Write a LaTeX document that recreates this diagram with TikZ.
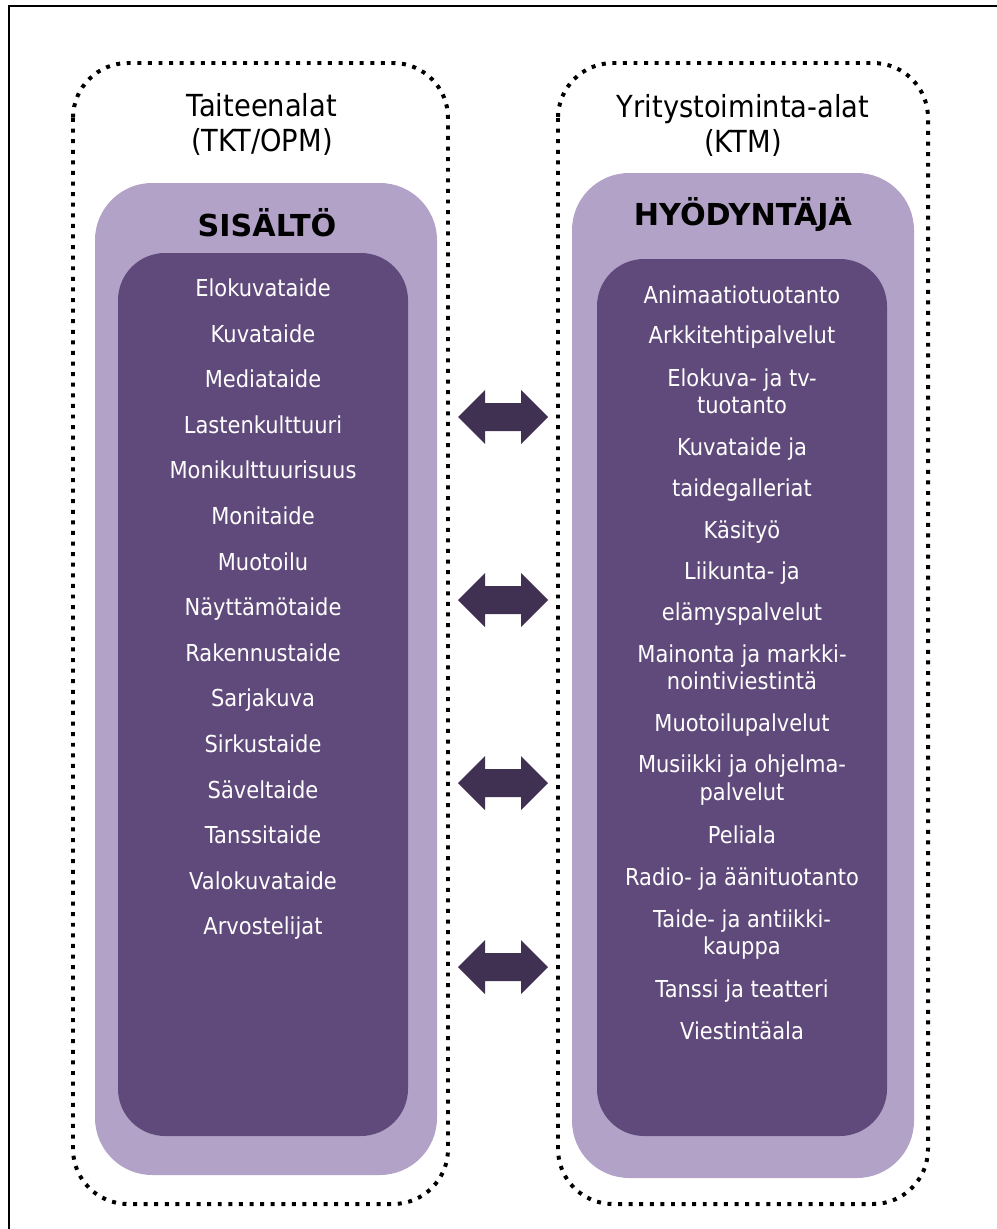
\documentclass[tikz,border=0pt]{standalone}
\usepackage{fontspec}
\setmainfont[FakeStretch=0.9]{DejaVu Sans}
\newfontfamily\paksufont{DejaVu Sans}
\definecolor{lilaVaalea}{HTML}{B3A2C7}
\definecolor{lilaTumma}{HTML}{604A7B}
\definecolor{lilaNuoli}{HTML}{403152}

\begin{document}
\begin{tikzpicture}[x=0.025cm,y=-0.025cm,
	pistelaatikko/.style={line width=2.83pt,dash pattern=on 2.83pt off 4.7pt,rounded corners=1.375cm},
	vaalealaatikko/.style={fill=lilaVaalea,rounded corners=1.43cm},
	tummalaatikko/.style={fill=lilaTumma,rounded corners=1.18cm},
	otsikko/.style={font=\fontsize{21.6}{24.9}\selectfont,align=center,inner sep=0pt},
	paaotsikko/.style={font=\paksufont\bfseries\fontsize{21.5}{25}\selectfont,inner sep=0pt},
	ala/.style={text=white,font=\fontsize{16.6}{19.4}\selectfont,align=center,inner sep=0pt},
	nuoli/.style={fill=lilaNuoli}]

	\useasboundingbox (0,0) rectangle (997,1229);
	\draw[line width=1.4pt] (9,1229) -- (9,6) -- (997,6);

	\draw[pistelaatikko] (73,63) rectangle (448,1204);
	\fill[vaalealaatikko] (95,183) rectangle (437,1175);
	\fill[tummalaatikko] (118,253) rectangle (408,1136);

	\draw[pistelaatikko] (558,63) rectangle (928,1204);
	\fill[vaalealaatikko] (572,173) rectangle (914,1178);
	\fill[tummalaatikko] (597,259) rectangle (887,1136);

	\node[otsikko] (taide) at (262,124.5) {Taiteenalat\\(TKT/OPM)};
	\node[otsikko] (yritys) at (743,125) {Yritystoiminta-alat\\(KTM)};
	\node[paaotsikko] (sisalto) at (267,223) {SISÄLTÖ};
	\node[paaotsikko] (hyodyntaja) at (743,215) {HYÖDYNTÄJÄ};

	\foreach \teksti [count=\i] in {Elokuvataide,Kuvataide,Mediataide,Lastenkulttuuri,
		Monikulttuurisuus,Monitaide,Muotoilu,Näyttämötaide,Rakennustaide,Sarjakuva,
		Sirkustaide,Säveltaide,Tanssitaide,Valokuvataide,Arvostelijat}
		\node[ala] (sis-\i) at (263,{288+45.6*(\i-1)+3}) {\strut\teksti\strut};

	\foreach \y/\teksti [count=\i] in {295/{Animaatiotuotanto},335/{Arkkitehtipalvelut},
		391.5/{Elokuva- ja tv-\\tuotanto},447/{Kuvataide ja},488/{taidegalleriat},
		530/{Käsityö},571/{Liikunta- ja},612/{elämyspalvelut},
		667.5/{Mainonta ja markki-\\nointiviestintä},723/{Muotoilupalvelut},
		778/{Musiikki ja ohjelma-\\palvelut},835/{Peliala},877/{Radio- ja äänituotanto},
		932.5/{Taide- ja antiikki-\\kauppa},989/{Tanssi ja teatteri},1031/{Viestintäala}}
		\node[ala] (hyo-\i) at (742,\y+3) {\strut\teksti\strut};

	\foreach \y in {417,600,783,967}
		\fill[nuoli] (458,\y) -- (485,\y-27) -- (485,\y-14) -- (521,\y-14) -- (521,\y-27)
			-- (548,\y) -- (521,\y+27) -- (521,\y+14) -- (485,\y+14) -- (485,\y+27) -- cycle;
\end{tikzpicture}
\end{document}
